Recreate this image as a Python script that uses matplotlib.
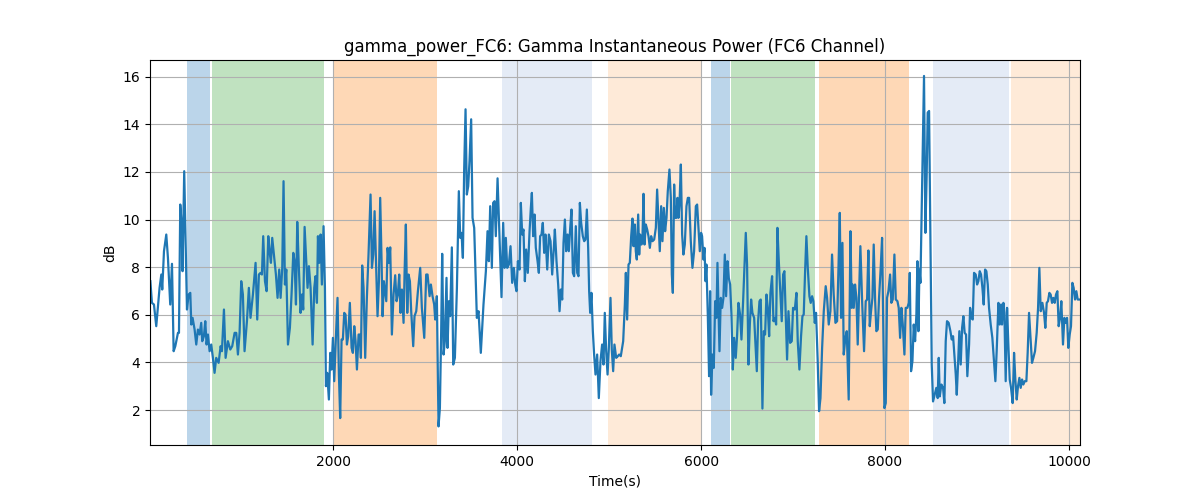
import matplotlib
matplotlib.use("Agg")
import matplotlib.pyplot as plt

time_s = [12, 29, 51, 76, 112, 131, 141, 160, 185, 203, 228, 247, 265, 283, 312, 323, 337, 352, 362, 380,
          395, 410, 428, 446, 457, 471, 493, 511, 529, 547, 565, 576, 594, 609, 623, 638, 656, 674, 692, 710,
          728, 754, 776, 790, 812, 830, 855, 881, 902, 928, 946, 964, 982, 1000, 1018, 1036, 1062, 1083, 1101, 1127,
          1156, 1174, 1192, 1210, 1225, 1239,
          1258, 1276, 1294, 1312, 1323, 1337, 1359, 1377, 1395, 1413, 1428, 1446, 1460, 1475, 1490, 1508, 1529, 1547, 1566, 1580,
          1595, 1609, 1624, 1645, 1660, 1674, 1689, 1707, 1721, 1736, 1754, 1776, 1794, 1808, 1823, 1834, 1848, 1863, 1877, 1895,
          1910, 1921, 1935, 1953, 1968, 1982, 1997, 2011, 2029, 2047, 2062, 2076, 2091, 2105, 2120, 2134, 2149, 2163, 2181, 2200,
          2214, 2229, 2243, 2258, 2276, 2290, 2301, 2315, 2330, 2348, 2366, 2384, 2406, 2421, 2435, 2450, 2464, 2482, 2497, 2511,
          2526, 2537, 2551,
          2577, 2591, 2606, 2620, 2638, 2656, 2674, 2689, 2703, 2718, 2732, 2747, 2765, 2776, 2790, 2805, 2819, 2834, 2848, 2870,
          2884, 2903, 2921, 2946, 2964, 2990, 3011, 3026, 3048, 3062, 3080, 3098, 3109, 3127, 3145, 3160, 3174, 3185, 3200, 3214,
          3232, 3243, 3258, 3272, 3290, 3305, 3323, 3345, 3366, 3381, 3395, 3410, 3424, 3439, 3453, 3468, 3482, 3500, 3515, 3533,
          3551, 3562, 3580, 3605, 3634, 3660, 3678, 3692, 3707, 3725, 3739, 3754, 3768, 3787, 3805,
          3830, 3848, 3863, 3877, 3892, 3910, 3928, 3946, 3964, 3979, 3993, 4008, 4026, 4040, 4055, 4069, 4084, 4098, 4116, 4135,
          4149, 4160, 4174, 4189, 4203, 4222, 4236, 4250, 4265, 4279, 4294, 4308, 4327, 4345, 4363, 4381, 4399, 4410, 4428, 4446,
          4461, 4475, 4490, 4504, 4519, 4533, 4548, 4562, 4577, 4591, 4606, 4620, 4638, 4653, 4667, 4682, 4696, 4714, 4729, 4743,
          4758, 4772, 4783, 4794, 4808, 4823, 4837, 4852, 4870, 4888, 4906, 4924, 4939, 4953, 4968, 4983, 4997, 5015, 5029, 5044,
          5058, 5077, 5095,
          5109, 5127, 5153, 5171, 5182, 5196, 5211, 5225, 5240, 5254, 5265, 5280, 5290, 5301, 5316, 5327, 5337, 5352, 5363, 5374,
          5385, 5399, 5414, 5428, 5443, 5457, 5472, 5490, 5508, 5522, 5537, 5551, 5566, 5580, 5595, 5609, 5624, 5638, 5656, 5671,
          5682, 5693, 5707, 5718, 5732, 5743, 5754, 5765, 5780, 5794, 5808, 5823, 5841, 5856, 5870, 5888, 5906, 5924, 5943, 5957,
          5972, 5986, 6000, 6011, 6026, 6037, 6048, 6058, 6073, 6087, 6098, 6109, 6124, 6138, 6153, 6167, 6178, 6189, 6200, 6214,
          6229, 6243, 6258, 6272, 6287, 6301, 6316, 6330, 6345, 6359,
          6377, 6392, 6406, 6424, 6439, 6457, 6471, 6486, 6500, 6515, 6530, 6544, 6558, 6577, 6591, 6606, 6620, 6635, 6649, 6667,
          6682, 6696, 6711, 6725, 6740, 6754, 6772, 6787, 6801, 6816, 6830, 6845, 6859, 6877, 6892, 6906, 6921, 6935, 6950, 6968,
          6986, 7000, 7019, 7037, 7051, 7069, 7087, 7102, 7116, 7131, 7145, 7160, 7178, 7192, 7207, 7221, 7236, 7250, 7268, 7283,
          7298, 7316, 7334, 7355, 7370, 7388, 7406, 7424, 7442, 7461, 7479, 7493, 7508, 7522, 7537, 7551, 7569, 7584, 7605, 7624,
          7638,
          7645, 7660, 7674, 7689, 7703, 7718, 7732, 7751, 7772, 7790, 7805, 7819, 7834, 7848, 7863, 7877, 7892, 7906, 7921, 7935,
          7953, 7968, 7982, 7993, 8008, 8022, 8037, 8055, 8069, 8084, 8102, 8117, 8135, 8149, 8164, 8178, 8193, 8211, 8225, 8243,
          8258, 8269, 8283, 8298, 8312, 8327, 8341, 8352, 8363, 8374, 8385, 8424, 8439, 8453, 8464, 8479, 8493, 8508, 8522, 8540,
          8558, 8573, 8584, 8595, 8613, 8631, 8645, 8660, 8674, 8692, 8711, 8725, 8740, 8754, 8769, 8780, 8794, 8808, 8823, 8838,
          8852, 8866, 8881, 8895,
          8914, 8925, 8939, 8954, 8968, 8986, 9001, 9015, 9030, 9044, 9059, 9073, 9088, 9102, 9117, 9131, 9149, 9167, 9185, 9200,
          9214, 9233, 9247, 9262, 9272, 9287, 9298, 9312, 9327, 9341, 9356, 9370, 9388, 9403, 9417, 9432, 9446, 9461, 9475, 9490,
          9504, 9519, 9537, 9551, 9566, 9580, 9598, 9613, 9631, 9649, 9664, 9678, 9693, 9711, 9729, 9743, 9758, 9772, 9787, 9801,
          9816, 9830, 9845, 9859, 9874, 9888, 9903, 9917, 9935, 9950, 9964, 9979, 9993, 10008, 10022, 10037, 10051, 10066, 10080, 10095,
          10118]

power_db = [7.41, 6.50, 6.43, 5.52, 7.13, 7.69, 7.06, 8.67, 9.37, 8.39, 6.43, 8.14, 4.47, 4.68, 5.24, 5.24, 10.63, 9.79, 7.83, 12.03,
            9.09, 6.22, 6.85, 6.92, 5.59, 5.87, 5.38, 4.75, 5.38, 5.17, 5.66, 4.89, 5.10, 5.73, 4.75, 5.17, 4.47, 4.75, 4.19, 3.56,
            4.19, 3.98, 4.68, 4.47, 6.22, 4.19, 4.89, 4.54, 4.68, 5.24, 5.24, 4.33, 5.24, 7.41, 6.85, 4.47, 5.73, 7.13, 5.87, 6.85,
            8.18, 5.80, 7.69, 7.76, 7.69, 9.30,
            7.41, 6.99, 9.30, 8.53, 8.18, 9.23, 8.39, 7.69, 6.71, 7.90, 6.71, 7.97, 11.61, 7.27, 7.90, 4.75, 5.45, 6.85, 8.60, 8.25,
            6.43, 9.90, 8.25, 6.08, 6.85, 6.22, 9.69, 8.25, 7.13, 8.04, 7.13, 4.75, 7.13, 7.62, 6.50, 9.30, 8.18, 9.37, 7.27, 9.72,
            7.13, 3.00, 3.56, 2.44, 4.40, 3.70, 5.03, 3.21, 5.03, 6.71, 3.49, 1.66, 4.96, 4.96, 6.08, 6.01, 4.75, 5.10, 6.50, 4.61,
            4.40, 5.52, 4.89, 3.70, 5.17, 5.17, 4.19, 8.07, 7.13, 4.19, 6.71, 8.53, 11.05, 7.97, 8.53, 10.35, 8.39, 5.94, 7.41, 10.91,
            8.25, 5.94, 7.41,
            6.57, 8.81, 8.18, 8.83, 5.17, 6.85, 7.66, 6.57, 6.85, 7.69, 6.08, 7.06, 5.66, 7.76, 9.79, 6.08, 7.69, 7.41, 6.15, 4.68,
            5.94, 6.15, 6.99, 7.97, 6.29, 5.03, 7.69, 7.69, 6.78, 7.27, 6.78, 6.43, 5.80, 6.78, 1.31, 2.08, 5.31, 8.56, 4.33, 4.89,
            7.55, 4.61, 6.57, 5.94, 8.83, 3.91, 4.19, 7.13, 11.19, 9.23, 9.44, 8.39, 12.10, 14.63, 11.05, 11.40, 12.45, 14.21, 10.07, 9.65,
            7.27, 5.87, 6.15, 4.40, 6.43, 7.83, 9.51, 8.25, 10.56, 7.97, 10.70, 10.77, 9.30, 11.73, 9.65,
            6.74, 9.86, 7.97, 9.23, 7.97, 8.11, 8.88, 7.34, 7.97, 7.27, 6.99, 8.25, 7.90, 10.70, 9.37, 9.58, 7.41, 8.74, 7.76, 9.51,
            10.49, 11.12, 9.30, 10.21, 8.81, 8.25, 7.76, 9.30, 9.37, 9.86, 8.60, 9.37, 7.90, 9.37, 9.09, 7.69, 8.81, 9.58, 8.25, 7.27,
            6.15, 7.06, 6.64, 9.02, 10.00, 8.67, 9.37, 8.67, 9.65, 10.42, 7.76, 7.62, 9.72, 7.76, 7.62, 10.70, 9.86, 9.30, 9.09, 9.16,
            10.42, 8.81, 6.99, 6.08, 6.92, 5.31, 4.33, 3.49, 4.33, 2.50, 4.05, 4.75, 3.91, 6.08, 4.47, 3.49, 4.61, 6.71, 4.54, 3.63,
            4.75, 4.19, 4.26,
            4.33, 4.26, 4.89, 6.43, 7.76, 5.80, 8.11, 8.18, 9.30, 10.04, 8.88, 9.79, 8.67, 8.32, 10.21, 8.53, 9.37, 8.95, 9.30, 11.08,
            8.95, 9.79, 9.58, 9.30, 8.81, 9.30, 9.09, 9.16, 9.65, 11.26, 9.93, 8.67, 10.56, 9.09, 10.49, 9.51, 10.07, 11.19, 12.10, 10.91,
            7.69, 6.92, 11.47, 10.07, 10.07, 10.91, 10.07, 10.63, 12.31, 9.37, 8.53, 8.95, 10.56, 10.91, 10.91, 9.09, 7.97, 8.67, 10.56, 10.63,
            9.65, 8.67, 9.44, 9.30, 8.32, 8.81, 7.41, 8.11, 6.01, 3.42, 6.99, 2.64, 4.33, 3.77, 6.57, 5.87, 8.18, 6.22, 4.47, 6.71,
            6.29, 6.71, 8.53, 6.78, 8.25, 7.55, 7.27, 6.01, 3.70, 5.03,
            4.19, 5.17, 6.50, 6.01, 4.96, 6.57, 7.97, 9.44, 8.11, 3.91, 5.59, 6.64, 6.08, 5.87, 4.75, 3.63, 5.73, 6.57, 6.64, 2.06,
            5.31, 5.17, 6.85, 6.29, 5.10, 6.92, 7.62, 5.73, 5.87, 5.59, 9.65, 8.25, 7.13, 5.73, 7.69, 7.83, 5.87, 4.12, 6.15, 4.82,
            4.89, 6.29, 6.22, 6.92, 4.89, 3.70, 5.10, 5.94, 6.01, 7.83, 9.30, 7.97, 6.78, 6.50, 6.78, 6.57, 5.66, 6.08, 4.05, 1.95,
            2.50, 4.61, 6.15, 7.20, 6.71, 5.59, 6.15, 8.53, 6.85, 5.66, 5.73, 7.83, 10.28, 5.87, 9.02, 4.33, 5.03, 5.31, 2.44, 9.51,
            6.29,
            7.27, 6.29, 7.27, 6.71, 4.75, 6.85, 8.88, 6.57, 4.47, 6.57, 6.64, 8.70, 5.52, 6.15, 6.71, 8.95, 6.64, 5.31, 5.38, 6.71,
            7.97, 9.23, 5.31, 2.08, 2.29, 6.71, 6.99, 7.69, 6.50, 6.64, 8.53, 6.64, 6.57, 6.29, 5.03, 6.29, 5.59, 4.33, 6.29, 6.29,
            6.50, 7.76, 3.63, 4.05, 5.59, 4.89, 6.01, 8.25, 5.31, 7.90, 7.34, 16.03, 9.44, 11.89, 14.49, 14.56, 9.23, 3.91, 2.36, 2.64,
            2.93, 2.50, 4.19, 2.57, 3.07, 2.93, 2.29, 4.89, 5.73, 5.66, 5.31, 4.96, 5.10, 4.33, 3.49, 2.64, 3.91, 5.31, 3.91, 5.45,
            5.94, 5.24, 5.17, 3.42,
            4.75, 6.29, 5.87, 5.80, 7.76, 7.69, 7.27, 7.41, 7.83, 7.69, 7.13, 6.43, 7.90, 7.83, 7.27, 6.29, 5.59, 5.03, 4.05, 3.21,
            4.47, 6.50, 5.59, 6.43, 5.59, 6.50, 6.08, 3.21, 6.29, 4.75, 3.28, 2.93, 2.29, 4.40, 3.28, 2.44, 3.00, 3.35, 2.93, 3.28,
            3.07, 3.21, 3.21, 4.40, 6.08, 5.17, 3.98, 4.19, 4.47, 5.24, 6.29, 7.97, 6.15, 6.50, 6.08, 5.45, 6.50, 6.57, 6.92, 6.85,
            6.50, 6.71, 6.50, 6.85, 6.99, 5.52, 5.87, 6.57, 4.75, 5.87, 5.66, 5.87, 4.61, 5.17, 5.52, 7.34, 7.13, 6.64, 6.99, 6.64,
            6.64]

span_starts = [410, 678, 2000, 3830, 4990, 6109, 6327, 7280, 8519, 9366]
span_ends = [665, 1899, 3127, 4809, 6004, 6312, 7236, 8258, 9352, 10120]
span_colors = ['#bbd5ea', '#c0e2c0', '#fed8b6', '#e4ebf6', '#feead8',
               '#bbd5ea', '#c0e2c0', '#fed8b6', '#e4ebf6', '#feead8']

fig, ax = plt.subplots(figsize=(12, 5), dpi=100)
for s, e, c in zip(span_starts, span_ends, span_colors):
    ax.axvspan(s, e, color=c, zorder=0, lw=0)
ax.plot(time_s, power_db, color='#1f77b4', lw=1.6, zorder=2)
ax.set_xlim(8, 10120)
ax.set_ylim(0.53, 16.7)
ax.grid(True)
ax.set_title('gamma_power_FC6: Gamma Instantaneous Power (FC6 Channel)')
ax.set_xlabel('Time(s)')
ax.set_ylabel('dB')
fig.savefig('out.png', dpi=100)
